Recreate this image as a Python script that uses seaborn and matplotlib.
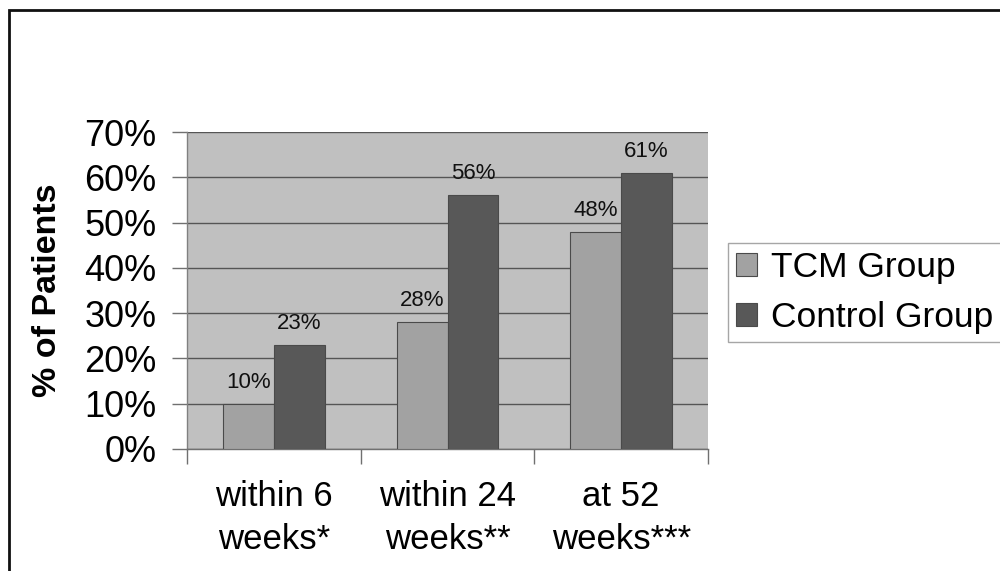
import matplotlib
matplotlib.use("Agg")
import matplotlib.pyplot as plt
import seaborn as sns
import pandas as pd
from matplotlib.patches import Rectangle

categories = ["within 6\nweeks*", "within 24\nweeks**", "at 52\nweeks***"]
groups = ["TCM Group", "Control Group"]
tcm_values = [10, 28, 48]
control_values = [23, 56, 61]
y_ticks = [0, 10, 20, 30, 40, 50, 60, 70]

df = pd.DataFrame({
    "category": categories * 2,
    "group": [groups[0]] * 3 + [groups[1]] * 3,
    "value": tcm_values + control_values,
})

sns.set_theme(style="white")
plt.rcParams["font.family"] = ["Liberation Sans", "DejaVu Sans"]
plt.rcParams["text.color"] = "black"
plt.rcParams["axes.labelcolor"] = "black"
plt.rcParams["xtick.color"] = "black"
plt.rcParams["ytick.color"] = "black"

fig = plt.figure(figsize=(10, 5.71), dpi=100)
ax = fig.add_axes([0.187, 0.2137, 0.521, 0.5551])
ax.set_facecolor("#c0c0c0")

palette = {"TCM Group": "#a2a2a2", "Control Group": "#585858"}
sns.barplot(data=df, x="category", y="value", hue="group", order=categories,
            hue_order=groups, palette=palette, width=0.585, ax=ax,
            edgecolor="#4a4a4a", linewidth=0.8, saturation=1, zorder=3)

ax.set_ylim(0, 70)
ax.set_xlim(-0.5, 2.5)
ax.set_yticks(y_ticks)
ax.set_yticklabels([f"{v}%" for v in y_ticks], fontsize=26)
ax.yaxis.grid(True, color="#555555", linewidth=1.0, zorder=0)
ax.set_axisbelow(True)
ax.tick_params(axis="y", left=True, length=11, color="#707070", labelcolor="black", width=1, pad=11)
ax.set_xticks([0, 1, 2])
ax.set_xticklabels(categories, fontsize=25, linespacing=1.42)
ax.tick_params(axis="x", which="major", bottom=True, length=0, pad=22, labelcolor="black")
ax.set_xticks([-0.5, 0.5, 1.5, 2.5], minor=True)
ax.tick_params(axis="x", which="minor", bottom=True, length=11, color="#707070", width=1)
ax.set_xlabel("")
ax.set_ylabel("% of Patients", fontsize=24.5, fontweight="bold", labelpad=15, color="black")

for s in ["top", "right"]:
    ax.spines[s].set_visible(False)
ax.spines["left"].set_color("#808080")
ax.spines["left"].set_linewidth(1)
ax.spines["bottom"].set_color("#707070")
ax.spines["bottom"].set_linewidth(1)

for cont in ax.containers:
    ax.bar_label(cont, labels=[f"{int(v)}%" for v in cont.datavalues],
                 fontsize=16, padding=8, color="#111111")

leg = ax.legend(loc="upper left", bbox_to_anchor=(0.728, 1 - 243 / 571), bbox_transform=fig.transFigure,
                fontsize=25.5, frameon=True, fancybox=False, handlelength=0.6, handleheight=0.6,
                handletextpad=0.4, borderpad=0.22, labelspacing=0.48, borderaxespad=0)
leg.get_frame().set_edgecolor("#909090")
leg.get_frame().set_linewidth(1)
for t in leg.get_texts():
    t.set_color("black")

fig.patches.append(Rectangle((9 / 1000, -0.1), 1.2, 1 - 10 / 571 + 0.1,
                             transform=fig.transFigure, fill=False,
                             edgecolor="#111111", linewidth=2))

fig.savefig("out.png", dpi=100)
